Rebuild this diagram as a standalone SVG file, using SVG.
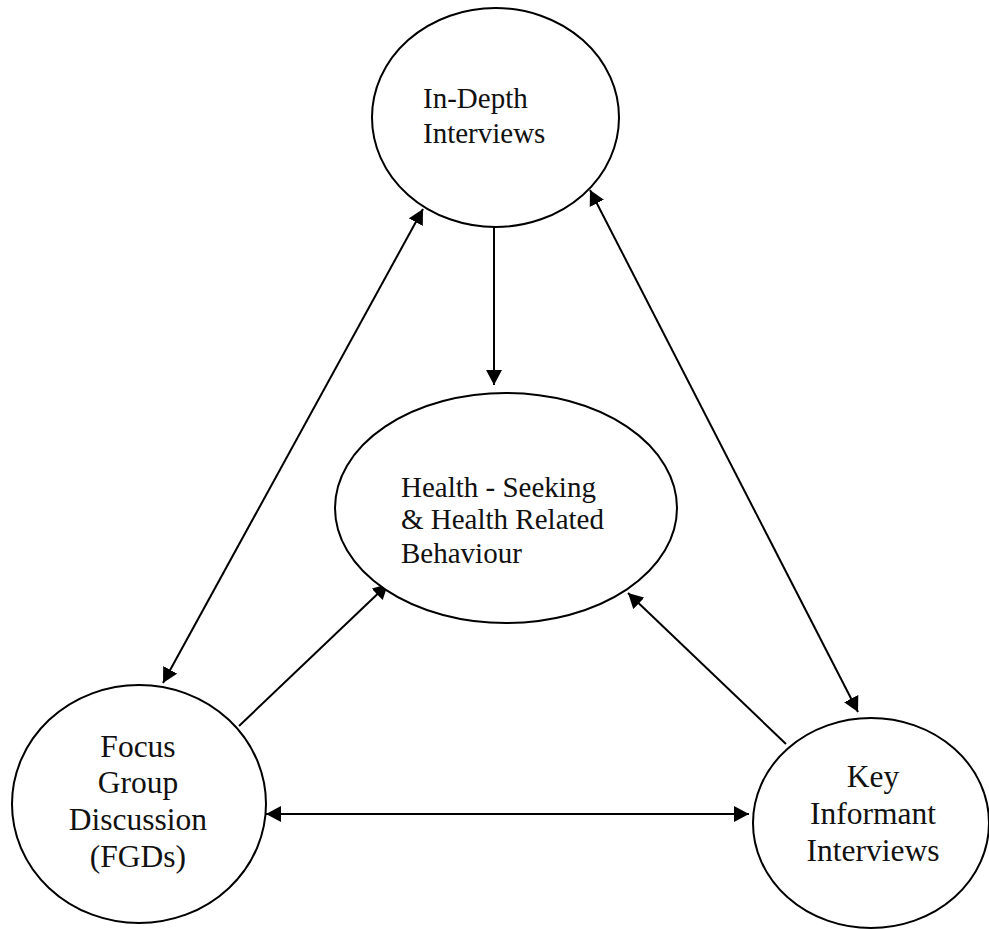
<svg xmlns="http://www.w3.org/2000/svg" width="989" height="929" viewBox="0 0 989 929">
<style>
.node{fill:#fff;stroke:#000;stroke-width:2}
.lbl{font-family:"Liberation Serif","Times New Roman",serif;fill:#111}
.edge{stroke:#000;stroke-width:2;fill:none}
</style>
<defs>
<marker id="ah" viewBox="0 0 15 16" refX="15" refY="8" markerWidth="15" markerHeight="16" markerUnits="userSpaceOnUse" orient="auto-start-reverse">
<path d="M0,0 L15,8 L0,16 z" fill="#000"/>
</marker>
</defs>
<rect width="989" height="929" fill="#fff"/>
<g id="connectors">
<line class="edge" x1="494" y1="227" x2="494" y2="385" marker-end="url(#ah)"/>
<line class="edge" x1="423" y1="209" x2="163" y2="683" marker-start="url(#ah)" marker-end="url(#ah)"/>
<line class="edge" x1="590" y1="190" x2="858" y2="712" marker-start="url(#ah)" marker-end="url(#ah)"/>
<line class="edge" x1="266" y1="814" x2="749" y2="814" marker-start="url(#ah)" marker-end="url(#ah)"/>
<line class="edge" x1="239" y1="726" x2="388" y2="584" marker-end="url(#ah)"/>
<line class="edge" x1="786" y1="744" x2="628" y2="593" marker-end="url(#ah)"/>
</g>
<g id="in-depth">
<ellipse class="node" cx="495.5" cy="117.5" rx="123.5" ry="109.5"/>
<text class="lbl" font-size="29" x="423" y="108">In-Depth</text>
<text class="lbl" font-size="29" x="423" y="143">Interviews</text>
</g>
<g id="health">
<ellipse class="node" cx="506" cy="508" rx="171" ry="115"/>
<text class="lbl" font-size="29" x="401" y="497">Health - Seeking</text>
<text class="lbl" font-size="29" x="401" y="529">&amp; Health Related</text>
<text class="lbl" font-size="29" x="401" y="563">Behaviour</text>
</g>
<g id="fgd">
<ellipse class="node" cx="139" cy="804" rx="127" ry="119"/>
<g class="lbl" font-size="31.5" text-anchor="middle">
<text x="138" y="757">Focus</text>
<text x="138" y="793">Group</text>
<text x="138" y="830">Discussion</text>
<text x="138" y="867">(FGDs)</text>
</g>
</g>
<g id="kii">
<ellipse class="node" cx="871" cy="823" rx="118" ry="105"/>
<g class="lbl" font-size="31.5" text-anchor="middle">
<text x="873" y="787">Key</text>
<text x="873" y="824">Informant</text>
<text x="873" y="861">Interviews</text>
</g>
</g>
</svg>
